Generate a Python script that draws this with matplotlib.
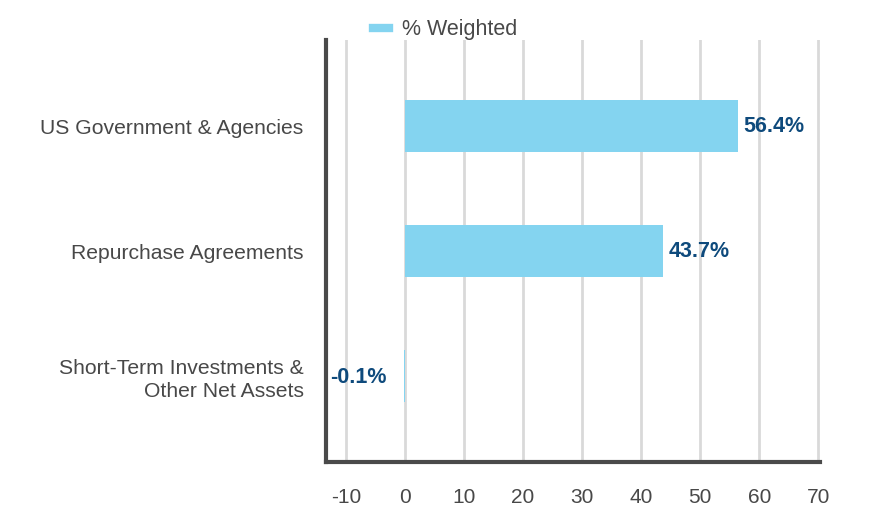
import matplotlib
matplotlib.use("Agg")
import matplotlib.pyplot as plt
from matplotlib.lines import Line2D

plt.rcParams['font.family'] = ['Liberation Sans', 'DejaVu Sans']

# chart data
categories = ["US Government & Agencies", "Repurchase Agreements",
              "Short-Term Investments &\nOther Net Assets"]
weights = [56.4, 43.7, -0.1]
x_ticks = [-10, 0, 10, 20, 30, 40, 50, 60, 70]

bar_color = "#84d4f0"
label_color = "#0e4a7c"
text_color = "#484848"

fig = plt.figure(figsize=(8.76, 5.28), dpi=100)
ax = fig.add_axes([0.3721, 0.125, 0.9361 - 0.3721, 0.924 - 0.125])

ypos = list(range(len(categories)))
ax.barh(ypos, weights, height=0.42, color=bar_color, zorder=3)

for y, v in zip(ypos, weights):
    if v >= 0:
        ax.annotate(f"{v:.1f}%", (v, y), xytext=(4, 0), textcoords="offset points",
                    ha="left", va="center", fontsize=15.5, fontweight="bold",
                    color=label_color)
    else:
        ax.annotate(f"{v:.1f}%", (v, y), xytext=(-13, -1), textcoords="offset points",
                    ha="right", va="center", fontsize=15.5, fontweight="bold",
                    color=label_color)

ax.set_xlim(-13.4, 70.3)
ax.set_ylim(2.69, -0.69)
ax.set_xticks(x_ticks)
ax.set_xticklabels([str(t) for t in x_ticks])
ax.set_yticks(ypos)
ax.set_yticklabels(categories, linespacing=1.3)
ax.tick_params(axis="x", length=0, pad=19, labelsize=15, labelcolor=text_color)
ax.tick_params(axis="y", length=0, pad=16, labelsize=15.2, labelcolor=text_color)

ax.grid(axis="x", color="#d9d9d9", linewidth=2, zorder=0)
for s in ["top", "right"]:
    ax.spines[s].set_visible(False)
for s in ["left", "bottom"]:
    ax.spines[s].set_color("#4a4a4a")
    ax.spines[s].set_linewidth(3)
    ax.spines[s].set_zorder(4)

handle = Line2D([0], [0], color=bar_color, linewidth=6)
fig.legend([handle], ["% Weighted"], loc="center", bbox_to_anchor=(0.508, 0.944),
           frameon=False, fontsize=15.5, handlelength=0.75, handletextpad=0.6,
           labelcolor=text_color)

fig.savefig("out.png", dpi=100)
